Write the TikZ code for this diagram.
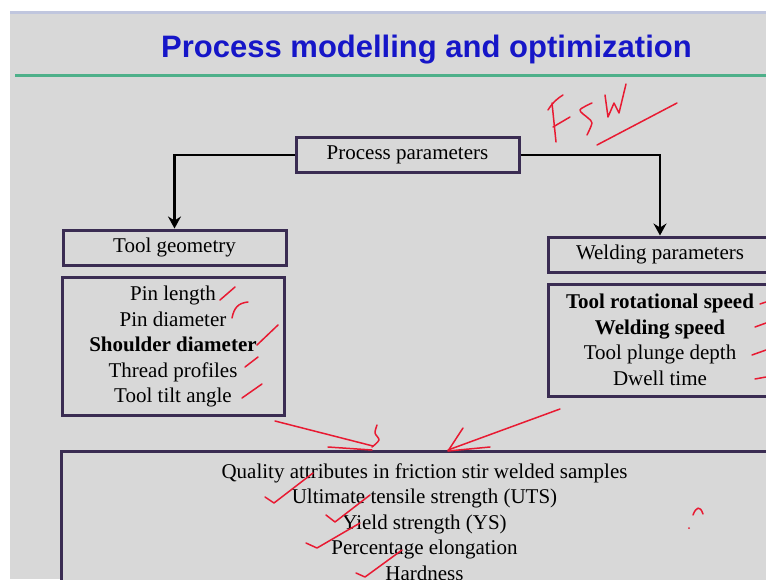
\documentclass[tikz,border=0pt]{standalone}
\usepackage{fontspec}
\setmainfont{Liberation Serif}
\newfontfamily\headfont{Liberation Sans}
\usetikzlibrary{arrows.meta,positioning,calc}
\definecolor{slidegray}{RGB}{216,216,216}
\definecolor{topline}{RGB}{192,198,222}
\definecolor{rulegreen}{RGB}{78,176,138}
\definecolor{titleblue}{RGB}{22,22,200}
\definecolor{boxline}{RGB}{58,44,82}
\definecolor{inkred}{RGB}{232,26,50}
\tikzset{
  box/.style={
    draw=boxline,
    line width=3pt,
    fill=slidegray,
    align=center,
    minimum width=223pt,
    minimum height=35pt,
    inner sep=0pt,
    font=\fontsize{21}{25.5}\selectfont
  },
  title/.style={
    text=titleblue,
    inner sep=0pt,
    font=\headfont\bfseries\fontsize{31}{36}\selectfont
  },
  arrow/.style={-{Stealth[length=12pt,width=13pt,inset=4pt]}, line width=2.4pt},
  ink/.style={inkred, line width=1.5pt, line cap=round, line join=round}
}

\begin{document}
\begin{tikzpicture}[x=1pt, y=-1pt]

\path[use as bounding box] (0,0) rectangle (766,579);
\clip (0,0) rectangle (766,579);

% slide background
\fill[white] (0,0) rectangle (766,579);
\fill[slidegray] (10,11) rectangle (766,579);
\draw[topline, line width=3pt] (10,12.5) -- (766,12.5);
\draw[rulegreen, line width=3pt] (15,75.5) -- (766,75.5);

\node[title] (head) at (426.5,50) {Process modelling and optimization};

% parameter boxes
\node[box] (pp) at (407.5,155) {Process parameters};

\node[box] (geom) at (174.5,247.5) {Tool geometry};
\node[box, minimum width=222pt, minimum height=138pt] (geomlist) at (173,346.5) {Pin length\\
Pin diameter\\
\textbf{Shoulder diameter}\\
Thread profiles\\
Tool tilt angle};

\node[box, minimum width=224pt] (weld) at (660,254.5) {Welding parameters};
\node[box, minimum width=224pt, minimum height=112pt] (weldlist) at (660,340) {\textbf{Tool rotational speed}\\
\textbf{Welding speed}\\
Tool plunge depth\\
Dwell time};

% responses
\node[box, anchor=north west, minimum width=726pt, minimum height=141pt] (quality) at (60,450) {Quality attributes in friction stir welded samples\\
Ultimate tensile strength (UTS)\\
Yield strength (YS)\\
Percentage elongation\\
Hardness};

% Connections
\draw[arrow] (pp.west) -| (geom.north);
\draw[arrow] (pp.east) -| (weld.north);

% pen marks: FSW
\draw[ink] (548,110) .. controls (553,102) and (558,98) .. (563,95);
\draw[ink] (552,103) -- (556,142);
\draw[ink] (553,127) -- (570,117);
\draw[ink] plot[smooth] coordinates {(592,103) (580,110) (588,118) (592,123) (587,135)};
\draw[ink] (605,95) -- (608,117) -- (614,103) -- (619,113) -- (626,84);
\draw[ink] (597,145) -- (677,103);

% pen marks: tool geometry
\draw[ink] (220,300) -- (235,287);
\draw[ink] (232,318) .. controls (234,308) and (238,303) .. (248,302);
\draw[ink] (257,345) -- (278,325);
\draw[ink] (245,367) -- (258,357);
\draw[ink] (242,398) -- (262,384);

% pen marks: welding parameters
\draw[ink] (760,304) -- (766,302);
\draw[ink] (755,327) -- (766,323);
\draw[ink] (752,355) -- (766,350);
\draw[ink] (755,379) -- (766,377);

% pen marks: arrows into the quality box
\draw[ink] (275,421) -- (373,446);
\draw[ink] plot[smooth] coordinates {(377,425) (375,433) (379,440) (372,447)};
\draw[ink] (328,447) -- (372,450);
\draw[ink] (560,409) -- (448,450);
\draw[ink] (463,428) -- (448,451) -- (490,447);

% pen marks: ticks
\draw[ink] (265,497) -- (274,503) -- (313,473);
\draw[ink] (326,515) -- (335,522) -- (370,495);
\draw[ink] (306,543) -- (317,548) -- (360,523);
\draw[ink] (356,573) -- (365,577) -- (402,550);
\draw[ink] (693,515) .. controls (696,507) and (700,505) .. (703,514);
\fill[inkred] (689,528) circle (1pt);

\end{tikzpicture}
\end{document}
